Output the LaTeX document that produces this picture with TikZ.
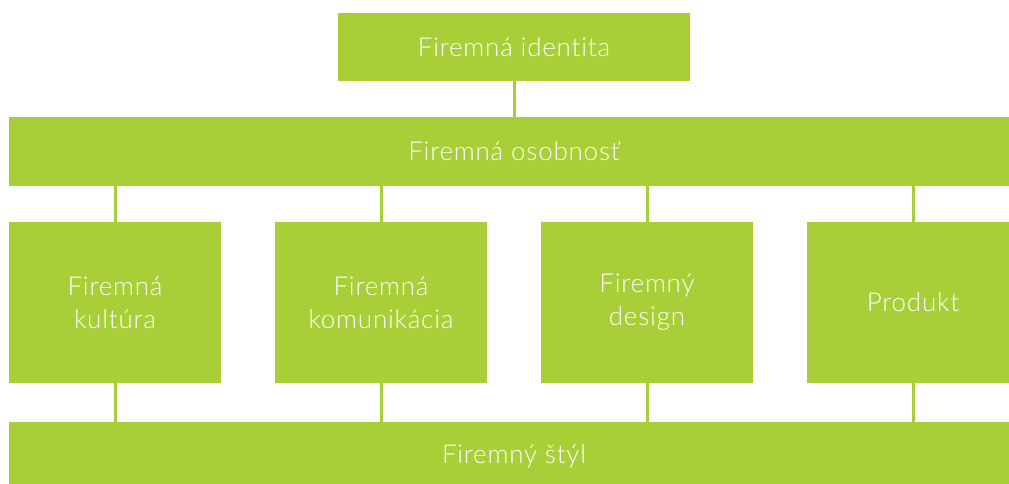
\documentclass[tikz,border=0pt]{standalone}
\usepackage{fontspec}
\setmainfont{Lato Light}[LetterSpace=3,Ligatures=NoCommon]
\definecolor{leaf}{HTML}{A9CF38}
\begin{document}
\begin{tikzpicture}[x=1pt,y=1pt,
  box/.style={fill=leaf,draw=none,text=white,align=center,inner sep=0pt,
    font=\fontsize{26}{33}\selectfont},
  link/.style={draw=leaf,line width=3pt}]
\clip (0,0) rectangle (1009,484);
\useasboundingbox (0,0) rectangle (1009,484);
% top level
\node[box,minimum width=352pt,minimum height=68pt] (ident) at (514,437) {Firemná identita};
% personality band
\node[box,minimum width=1010pt,minimum height=69pt] (osob) at (514,332.5) {Firemná osobnosť};
% four pillars
\foreach \n/\x/\t in {kult/115/{Firemná\\kultúra},
                       komu/381/{Firemná\\komunikácia},
                       dizn/647/{Firemný\\design},
                       prod/913/{Produkt}}
  \node[box,minimum width=212pt,minimum height=161pt] (\n) at (\x,181.5) {\t};
% style band
\node[box,minimum width=1010pt,minimum height=69pt] (styl) at (514,27.5) {Firemný štýl};
% connectors
\draw[link] (ident.south) -- (ident.south |- osob.north);
\foreach \n in {kult,komu,dizn,prod}{
  \draw[link] (\n.north) -- (\n.north |- osob.south);
  \draw[link] (\n.south) -- (\n.south |- styl.north);
}
\end{tikzpicture}
\end{document}
